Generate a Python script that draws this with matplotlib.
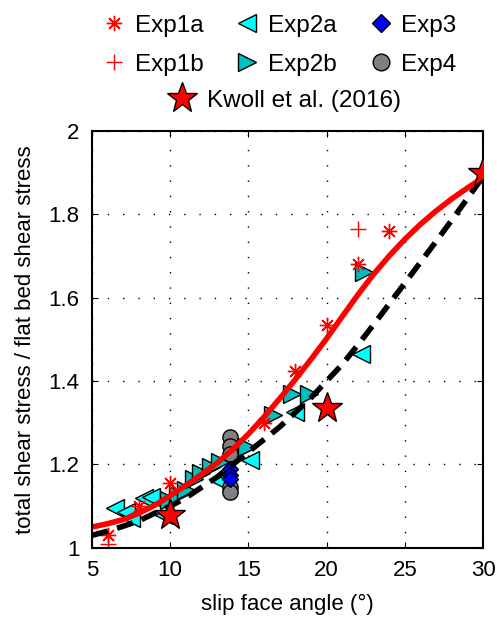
import numpy as np
import matplotlib.pyplot as plt
from matplotlib.lines import Line2D

plt.rcParams['font.family'] = ['Liberation Sans', 'DejaVu Sans']

# Experimental runs (slip face angle in degrees, shear stress ratio)
exp1a_x = [6, 8, 10, 16, 18, 20, 22, 24]
exp1a_y = [1.03, 1.10, 1.155, 1.30, 1.425, 1.535, 1.68, 1.76]

exp1b_x = [6, 22]
exp1b_y = [1.01, 1.765]

exp2a_x = [6.5, 7.2, 7.5, 8.3, 8.8, 9.6, 13.2, 13.6, 15.1, 18.0, 22.2]
exp2a_y = [1.095, 1.087, 1.072, 1.119, 1.123, 1.078, 1.160, 1.175, 1.210, 1.326, 1.466]

exp2b_x = [9.9, 10.5, 11.0, 11.5, 12.0, 12.6, 13.2, 14.5, 14.9, 16.6, 17.8, 18.9, 22.4]
exp2b_y = [1.115, 1.128, 1.14, 1.165, 1.180, 1.195, 1.205, 1.235, 1.243, 1.319, 1.370, 1.370, 1.662]

exp3_x = [13.8, 13.8, 13.8]
exp3_y = [1.19, 1.175, 1.165]

exp4_x = [13.8, 13.8, 13.8, 13.8, 13.8]
exp4_y = [1.265, 1.245, 1.225, 1.145, 1.133]

kwoll_x = [10, 20, 30]
kwoll_y = [1.078, 1.335, 1.898]

# Fitted curves
fit_x = [5, 6, 7, 8, 9, 10, 11, 12, 13, 14, 15, 16, 17, 18, 19, 20,
         21, 22, 23, 24, 25, 26, 27, 28, 29, 30]
fit_red = [1.05, 1.058, 1.068, 1.083, 1.102, 1.125, 1.15, 1.176, 1.204, 1.236,
           1.273, 1.314, 1.358, 1.404, 1.452, 1.502, 1.555, 1.607, 1.656, 1.70,
           1.74, 1.776, 1.808, 1.837, 1.863, 1.888]
fit_black = [1.03, 1.04, 1.052, 1.065, 1.083, 1.10, 1.12, 1.145, 1.17, 1.20,
             1.23, 1.26, 1.29, 1.325, 1.36, 1.40, 1.44, 1.487, 1.535, 1.585,
             1.635, 1.685, 1.735, 1.786, 1.838, 1.89]

fig = plt.figure(figsize=(4.97, 6.17), dpi=100)
ax = fig.add_axes([0.185, 0.112, 0.787, 0.676])

tri_kw = dict(linestyle='none', markersize=13, markeredgecolor='k', markeredgewidth=1)
ax.plot(exp2a_x, exp2a_y, marker='<', markerfacecolor='#00ffff', **tri_kw)
ax.plot(exp2b_x, exp2b_y, marker='>', markerfacecolor='#00bfbf', **tri_kw)
ax.plot(exp4_x, exp4_y, 'o', markersize=11, markerfacecolor='#808080',
        markeredgecolor='k', markeredgewidth=1)
ax.plot(exp3_x, exp3_y, 'D', markersize=8, markerfacecolor='#0000ff',
        markeredgecolor='k', markeredgewidth=1)
ax.plot(exp1a_x, exp1a_y, linestyle='none', marker=(8, 2, 0), markersize=11,
        markeredgecolor='r', markeredgewidth=1)
ax.plot(exp1b_x, exp1b_y, 'r+', markersize=12, markeredgewidth=1)

ax.plot(fit_x, fit_black, color='k', linewidth=4, dashes=(3, 1.7))
ax.plot(fit_x, fit_red, color='r', linewidth=4)
ax.plot(kwoll_x, kwoll_y, '*', markersize=23, markerfacecolor='r',
        markeredgecolor='k', markeredgewidth=1, zorder=5)

ax.set_xlim(5, 30)
ax.set_ylim(1, 2)
ax.set_xticks([5, 10, 15, 20, 25, 30])
ax.set_yticks([1, 1.2, 1.4, 1.6, 1.8, 2])
ax.set_yticklabels(['1', '1.2', '1.4', '1.6', '1.8', '2'])
ax.tick_params(direction='in', top=True, right=True, labelsize=16, length=4, pad=9)
ax.grid(True, color='k', linestyle=(0, (1, 10)), linewidth=1)
for s in ax.spines.values():
    s.set_linewidth(1.5)
ax.set_xlabel('slip face angle (°)', fontsize=16, labelpad=9)
ax.set_ylabel('total shear stress / flat bed shear stress', fontsize=16, labelpad=9)

handles = [
    Line2D([], [], linestyle='none', marker=(8, 2, 0), markersize=11,
           markeredgecolor='r', markeredgewidth=1),
    Line2D([], [], linestyle='none', marker='+', color='r', markersize=12,
           markeredgewidth=1),
    Line2D([], [], marker='<', markerfacecolor='#00ffff', **tri_kw),
    Line2D([], [], marker='>', markerfacecolor='#00bfbf', **tri_kw),
    Line2D([], [], linestyle='none', marker='D', markersize=9,
           markerfacecolor='#0000ff', markeredgecolor='k', markeredgewidth=1),
    Line2D([], [], linestyle='none', marker='o', markersize=12,
           markerfacecolor='#808080', markeredgecolor='k', markeredgewidth=1),
]
labels = ['Exp1a', 'Exp1b', 'Exp2a', 'Exp2b', 'Exp3', 'Exp4']
fig.legend(handles, labels, ncol=3, loc='center', bbox_to_anchor=(0.562, 0.927),
           frameon=False, fontsize=17.5, handlelength=1.0, handletextpad=0.35,
           columnspacing=1.3, labelspacing=0.7)

star = Line2D([], [], linestyle='none', marker='*', markersize=23,
              markerfacecolor='r', markeredgecolor='k', markeredgewidth=1)
fig.legend([star], ['Kwoll et al. (2016)'], loc='center',
           bbox_to_anchor=(0.572, 0.837), frameon=False, fontsize=17.5,
           handlelength=1.2, handletextpad=0.45)

fig.savefig('out.png', dpi=100)
